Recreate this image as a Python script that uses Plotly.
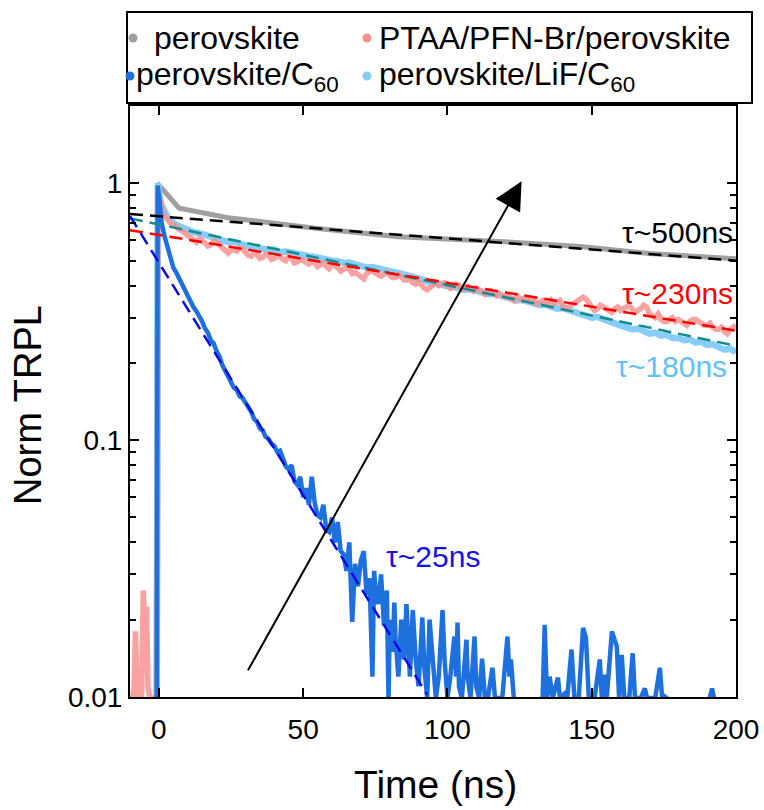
import plotly.graph_objects as go
import math

# ---------------- data ----------------
# perovskite (gray)
pero_time = [-1, -0.5, 7, 24, 55, 83, 118, 146, 170, 200]
pero_norm = [0.005, 1.0, 0.80, 0.735, 0.667, 0.62, 0.594, 0.567, 0.533, 0.508]

# PTAA/PFN-Br/perovskite (pink)
ptaa_time = [-10, -9, -8.6, -8.1, -7.6, -7, -6, -5.8, -5.4, -4.9, -4.3, -3.8, -3.2, -2, -1, -0.6, -0.3,
             0, 1, 2, 3, 4] + list(range(5, 201))
ptaa_norm = [0.0099, 0.0099, 0.011, 0.018, 0.011, 0.0099, 0.0099, 0.014, 0.026, 0.019, 0.0225, 0.011, 0.0099, 0.0099, 0.0099, 0.0099, 0.93,
             0.88, 0.80, 0.75, 0.72, 0.70,
             0.69, 0.68, 0.66, 0.655, 0.64, 0.625, 0.615, 0.60, 0.59, 0.61,
             0.60, 0.585, 0.57, 0.575, 0.595, 0.59, 0.575, 0.56, 0.545, 0.535,
             0.555, 0.55, 0.545, 0.56, 0.555, 0.54, 0.525, 0.52, 0.535, 0.53,
             0.51, 0.515, 0.53, 0.525, 0.505, 0.51, 0.52, 0.52, 0.505, 0.50,
             0.52, 0.51, 0.49, 0.495, 0.505, 0.50, 0.49, 0.485, 0.495, 0.49,
             0.475, 0.48, 0.49, 0.475, 0.465, 0.485, 0.48, 0.47, 0.455, 0.46,
             0.47, 0.465, 0.445, 0.45, 0.44, 0.43, 0.425, 0.445, 0.455, 0.455,
             0.445, 0.44, 0.435, 0.445, 0.45, 0.44, 0.43, 0.43, 0.44, 0.435,
             0.42, 0.42, 0.425, 0.41, 0.405, 0.415, 0.40, 0.39, 0.385, 0.395,
             0.405, 0.41, 0.40, 0.405, 0.41, 0.40, 0.39, 0.395, 0.405, 0.40,
             0.385, 0.39, 0.395, 0.385, 0.38, 0.39, 0.385, 0.38, 0.37, 0.375,
             0.38, 0.37, 0.365, 0.372, 0.365, 0.36, 0.365, 0.355, 0.35, 0.365,
             0.355, 0.35, 0.36, 0.355, 0.345, 0.35, 0.34, 0.345, 0.35, 0.34,
             0.335, 0.35, 0.34, 0.345, 0.35, 0.335, 0.325, 0.33, 0.335, 0.34,
             0.345, 0.35, 0.36, 0.355, 0.34, 0.33, 0.32, 0.325, 0.335, 0.33,
             0.325, 0.32, 0.315, 0.325, 0.33, 0.32, 0.325, 0.33, 0.335, 0.325,
             0.315, 0.32, 0.325, 0.335, 0.33, 0.31, 0.305, 0.30, 0.31, 0.295,
             0.29, 0.29, 0.295, 0.30, 0.29, 0.295, 0.29, 0.285, 0.28, 0.29,
             0.295, 0.295, 0.29, 0.285, 0.28, 0.28, 0.285, 0.275, 0.27, 0.27,
             0.275, 0.265, 0.26, 0.27, 0.275, 0.28]

# perovskite/LiF/C60 (light blue)
lif_time = [-0.8, -0.3, 0, 1, 2, 3, 4] + list(range(6, 201, 2))
lif_norm = [0.005, 1.0, 0.92, 0.82, 0.77, 0.74, 0.72,
            0.69, 0.675, 0.655, 0.645, 0.64, 0.625, 0.62, 0.61, 0.60, 0.59,
            0.592, 0.58, 0.575, 0.565, 0.562, 0.555, 0.55, 0.552, 0.54, 0.542,
            0.535, 0.53, 0.525, 0.52, 0.517, 0.51, 0.505, 0.50, 0.497, 0.49,
            0.492, 0.485, 0.475, 0.47, 0.472, 0.465, 0.46, 0.455, 0.45, 0.445,
            0.44, 0.435, 0.43, 0.42, 0.41, 0.407, 0.40, 0.402, 0.395, 0.39,
            0.385, 0.387, 0.38, 0.375, 0.37, 0.372, 0.365, 0.36, 0.355, 0.35,
            0.352, 0.345, 0.34, 0.335, 0.337, 0.33, 0.325, 0.327, 0.32, 0.315,
            0.31, 0.305, 0.30, 0.302, 0.295, 0.29, 0.285, 0.28, 0.275, 0.27,
            0.272, 0.265, 0.26, 0.262, 0.255, 0.257, 0.25, 0.25, 0.245, 0.247,
            0.24, 0.242, 0.235, 0.236, 0.23, 0.225, 0.227, 0.22]

# perovskite/C60 (blue)
c60_time = [-0.8, -0.4, 0, 0.5, 1, 2, 3, 4, 5, 6,
            7, 8, 9, 10, 11, 12, 13, 14, 15, 16,
            17, 18, 19, 20, 21, 22, 23, 24, 25, 26,
            27, 28, 29, 30, 31, 32, 33, 34, 35, 36,
            37, 38, 39, 40, 41, 42, 43, 44, 45, 46,
            47, 48, 49, 50, 51, 52, 53, 54, 55, 56,
            57, 58, 59, 60, 61, 62, 63, 64, 65, 66,
            67, 68, 69, 70, 71, 72, 73, 74, 74.6, 75,
            76, 77, 78, 79, 79.6, 80, 81, 81.6, 82, 83,
            84, 85, 85.8, 86.5, 87, 88, 89, 90, 91.3, 92,
            93, 93.8, 95, 96, 97, 98.3, 99, 100, 101, 102.4,
            103, 103.5, 104, 105, 106.6, 107, 108, 109.4, 110, 111,
            112, 113, 114, 115.6, 116.5, 118, 119, 120.8, 121.5, 122,
            123, 124, 125, 132, 133, 133.7, 134.5, 135.4, 136.5, 138.3,
            139, 140.6, 141.5, 143, 144, 145.5, 147, 148, 149, 151,
            152.8, 153.5, 154.4, 155.2, 157, 158.7, 159.5, 160.4, 161.3, 163,
            164.2, 165, 167, 168.4, 169.2, 172, 173.6, 174.4, 175, 176,
            177, 190, 191, 191.7, 192.4, 193, 200]
c60_norm = [0.005, 0.98, 0.90, 0.78, 0.70, 0.62, 0.56, 0.51, 0.47, 0.45,
            0.43, 0.41, 0.385, 0.365, 0.345, 0.33, 0.318, 0.305, 0.29, 0.272,
            0.262, 0.245, 0.238, 0.222, 0.212, 0.196, 0.186, 0.176, 0.170, 0.160,
            0.157, 0.148, 0.146, 0.140, 0.134, 0.129, 0.121, 0.118, 0.111, 0.109,
            0.103, 0.101, 0.097, 0.095, 0.090, 0.091, 0.085, 0.079, 0.077, 0.080,
            0.069, 0.067, 0.072, 0.060, 0.065, 0.056, 0.072, 0.057, 0.051, 0.050,
            0.056, 0.045, 0.044, 0.050, 0.040, 0.048, 0.037, 0.036, 0.031, 0.040,
            0.0196, 0.033, 0.027, 0.034, 0.037, 0.025, 0.029, 0.012, 0.031, 0.027,
            0.023, 0.030, 0.019, 0.026, 0.0095, 0.020, 0.015, 0.0233, 0.017, 0.012,
            0.020, 0.014, 0.023, 0.016, 0.012, 0.0218, 0.014, 0.011, 0.0204, 0.013,
            0.0099, 0.020, 0.013, 0.0099, 0.012, 0.0218, 0.014, 0.0099, 0.012, 0.0172,
            0.012, 0.0195, 0.011, 0.0099, 0.0167, 0.012, 0.0099, 0.0172, 0.011, 0.0099,
            0.0141, 0.0099, 0.0099, 0.013, 0.0099, 0.0099, 0.0099, 0.0172, 0.012, 0.014,
            0.0099, 0.0095, 0.009, 0.009, 0.0099, 0.0191, 0.0099, 0.012, 0.0099, 0.0119,
            0.0099, 0.0103, 0.0099, 0.0153, 0.0099, 0.0099, 0.0186, 0.017, 0.0099, 0.0099,
            0.014, 0.0099, 0.0122, 0.0099, 0.018, 0.0157, 0.0099, 0.0146, 0.0099, 0.0099,
            0.0148, 0.0099, 0.0099, 0.0108, 0.0099, 0.0099, 0.013, 0.0099, 0.0101, 0.0099,
            0.009, 0.009, 0.0099, 0.0108, 0.0099, 0.009, 0.009]

# exponential fits (straight on a log axis: end points)
fit_time = [-10, 200]
fit_500 = [0.759, 0.50]
fit_230 = [0.657, 0.267]
fit_180 = [0.73, 0.233]
fit25_time = [-10, 93]
fit_25 = [0.745, 0.0102]

x_ticks = [0, 50, 100, 150, 200]
y_ticks = [0.01, 0.1, 1]
y_ticktext = ["0.01", "0.1", "1"]
y_minor = [0.02, 0.03, 0.04, 0.05, 0.06, 0.07, 0.08, 0.09,
           0.2, 0.3, 0.4, 0.5, 0.6, 0.7, 0.8, 0.9, 2]

legend_labels = ["perovskite", "PTAA/PFN-Br/perovskite",
                 "perovskite/C<sub>60</sub>", "perovskite/LiF/C<sub>60</sub>"]

# ---------------- styling ----------------
GRAY = "rgb(160,160,160)"
PINK = "rgb(250,145,145)"
LBLUE = "rgb(135,205,250)"
BLUE = "rgb(30,112,222)"
FONT = "Liberation Sans, Arial, sans-serif"

W, H = 764, 810
L, R, T, B = 130, 28, 106, 113
PW, PH = W - L - R, H - T - B


def px(xp):
    return (xp - L) / PW


def py(yp):
    return (H - B - yp) / PH


fig = go.Figure()


def add_line(x, y, color, width, dash=None, opacity=1.0):
    fig.add_trace(go.Scatter(x=x, y=y, mode="lines",
                             line=dict(color=color, width=width, dash=dash),
                             opacity=opacity, showlegend=False, hoverinfo="skip"))


add_line(pero_time, pero_norm, GRAY, 5)
add_line(lif_time, lif_norm, LBLUE, 6.5)
add_line(ptaa_time, ptaa_norm, PINK, 5.5, opacity=0.85)
add_line(c60_time, c60_norm, BLUE, 4.5)
DASH = "13px,7px"
add_line(fit_time, fit_500, "black", 2.5, dash=DASH)
add_line(fit_time, fit_180, "rgb(20,140,140)", 2.5, dash=DASH)
add_line(fit_time, fit_230, "red", 2.5, dash=DASH)
add_line(fit25_time, fit_25, "rgb(10,10,230)", 2.5, dash=DASH)

axis_common = dict(showline=True, linewidth=2, linecolor="black", mirror="allticks",
                   ticks="inside", tickwidth=2, ticklen=9, tickcolor="black",
                   showgrid=False, zeroline=False, automargin=False,
                   tickfont=dict(family=FONT, size=28, color="black"))

fig.update_xaxes(range=[-10, 200], tickvals=x_ticks, ticklabelstandoff=6, **axis_common)
fig.update_yaxes(type="log", range=[-2, math.log10(2)], tickvals=y_ticks, ticktext=y_ticktext,
                 minor=dict(ticks="inside", ticklen=6, tickwidth=2, tickcolor="black",
                            tickvals=y_minor, showgrid=False),
                 **axis_common)

annotations = []
# axis titles
annotations.append(dict(text="Time (ns)", xref="paper", yref="paper", x=px(435), y=py(784),
                        showarrow=False, font=dict(family=FONT, size=39, color="black"),
                        xanchor="center", yanchor="middle"))
annotations.append(dict(text="Norm TRPL", xref="paper", yref="paper", x=px(28), y=py(405),
                        showarrow=False, textangle=-90, font=dict(family=FONT, size=38, color="black"),
                        xanchor="center", yanchor="middle"))
# lifetime labels
tau_labels = [("τ~500ns", "black", 199.5, 234),
              ("τ~230ns", "rgb(255,0,0)", 199.5, 295),
              ("τ~180ns", "rgb(100,192,248)", 197.5, 368),
              ("τ~25ns", "rgb(20,20,230)", None, 557)]
for txt, col, xr, yp in tau_labels:
    ylog = -(yp - 185) / 256.0
    if xr is not None:
        annotations.append(dict(text=txt, x=xr, y=ylog, xref="x", yref="y", showarrow=False,
                                xanchor="right", yanchor="middle",
                                font=dict(family=FONT, size=30, color=col)))
    else:
        annotations.append(dict(text=txt, x=(385 - 160) / 2.886, y=ylog, xref="x", yref="y",
                                showarrow=False, xanchor="left", yanchor="middle",
                                font=dict(family=FONT, size=30, color=col)))
# trend arrow
annotations.append(dict(x=125.7, y=0.008, ax=30.6, ay=-1.902, xref="x", yref="y",
                        axref="x", ayref="y", showarrow=True, text="",
                        arrowhead=2, arrowsize=2.8, arrowwidth=2, arrowcolor="black"))

# manual legend
legend_rows = [(152, 38, 133, GRAY, legend_labels[0]),
               (377, 38, 367, PINK, legend_labels[1]),
               (134, 76, 130, BLUE, legend_labels[2]),
               (377, 76, 367, LBLUE, legend_labels[3])]
shapes = [dict(type="rect", xref="paper", yref="paper", x0=px(127), x1=px(752),
               y0=py(103), y1=py(12), line=dict(color="black", width=2), fillcolor="white",
               layer="above")]
for tx, ty, dx, col, lab in legend_rows:
    shapes.append(dict(type="circle", xref="paper", yref="paper", xsizemode="pixel", ysizemode="pixel",
                       xanchor=px(dx), yanchor=py(ty), x0=-4.5, x1=4.5, y0=-4.5, y1=4.5,
                       fillcolor=col, line=dict(width=0), layer="above"))
    annotations.append(dict(text=lab, xref="paper", yref="paper", x=px(tx), y=py(ty),
                            showarrow=False, xanchor="left", yanchor="middle",
                            font=dict(family=FONT, size=32, color="black")))

fig.update_layout(width=W, height=H, margin=dict(l=L, r=R, t=T, b=B, pad=0, autoexpand=False),
                  plot_bgcolor="white", paper_bgcolor="white",
                  font=dict(family=FONT, color="black"),
                  showlegend=False, annotations=annotations, shapes=shapes)

fig.write_html("out.html", config={"displayModeBar": False},
               post_script="document.body.style.margin='0px';document.body.style.padding='0px';")
